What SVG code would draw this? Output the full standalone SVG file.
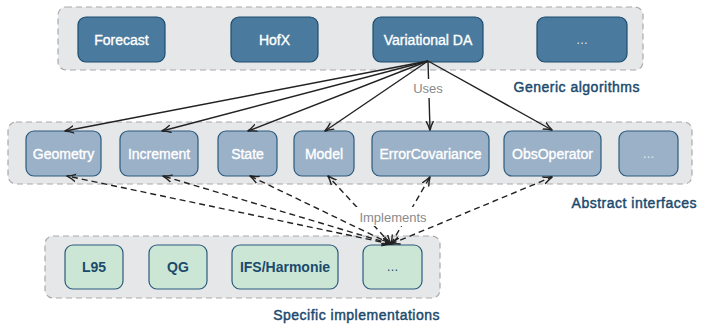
<svg xmlns="http://www.w3.org/2000/svg" width="701" height="324" viewBox="0 0 701 324">
<defs>
<marker id="arr" viewBox="0 0 10 10" refX="9" refY="5" markerWidth="10" markerHeight="10" markerUnits="userSpaceOnUse" orient="auto-start-reverse">
<path d="M0.5,1.5 Q5,4 9.5,5 Q5,6 0.5,8.5" fill="none" stroke="#222" stroke-width="1.4" stroke-linecap="round"/>
</marker>
<style>
.cont{fill:#e6e7e9;stroke:#a9aaac;stroke-width:1.2;stroke-dasharray:6 4}
.top{fill:#4a7a9d;stroke:#1d4d6e;stroke-width:1.2}
.mid{fill:#9bb1c8;stroke:#2b5b7c;stroke-width:1.2}
.bot{fill:#cce6d6;stroke:#2b5b7c;stroke-width:1.2}
.wt{font-family:"Liberation Sans",Arial,sans-serif;font-size:14px;fill:#ffffff;stroke:#ffffff;stroke-width:0.35;text-anchor:middle}
.dots{font-family:"Liberation Sans",Arial,sans-serif;font-size:12px;fill:#ffffff;fill-opacity:0.85;text-anchor:middle}
.bt{font-family:"Liberation Sans",Arial,sans-serif;font-size:14px;font-weight:bold;fill:#1b4a6b;text-anchor:middle}
.bdots{font-family:"Liberation Sans",Arial,sans-serif;font-size:12px;fill:#1b4a6b;text-anchor:middle}
.lab{font-family:"Liberation Sans",Arial,sans-serif;font-size:14px;letter-spacing:0.5px;fill:#1b4a6e;stroke:#1b4a6e;stroke-width:0.45;text-anchor:end}
.el{font-family:"Liberation Sans",Arial,sans-serif;font-size:13px;fill:#8a8a8a;text-anchor:middle}
.solid{fill:none;stroke:#222;stroke-width:1.4;marker-end:url(#arr)}
.dash{fill:none;stroke:#222;stroke-width:1.4;stroke-dasharray:6 4;marker-end:url(#arr);marker-start:url(#arr)}
</style>
</defs>
<rect width="701" height="324" fill="#ffffff"/>
<g id="generic-algorithms">
<rect class="cont" x="58" y="7" width="585" height="63" rx="8"/>
<text class="lab" x="640" y="92">Generic algorithms</text>
</g>
<g id="abstract-interfaces">
<rect class="cont" x="8" y="122" width="684" height="62" rx="8"/>
<text class="lab" x="697" y="208">Abstract interfaces</text>
</g>
<g id="specific-implementations">
<rect class="cont" x="45" y="236" width="395" height="62" rx="8"/>
<text class="lab" x="440" y="320">Specific implementations</text>
</g>
<g id="forecast"><rect class="top" x="78" y="17" width="87" height="45" rx="8"/><text class="wt" x="121.5" y="45">Forecast</text></g>
<g id="hofx"><rect class="top" x="231" y="17" width="87" height="45" rx="8"/><text class="wt" x="274.5" y="45">HofX</text></g>
<g id="variational-da"><rect class="top" x="373" y="17" width="110" height="45" rx="8"/><text class="wt" x="428" y="45">Variational DA</text></g>
<g id="generic-more"><rect class="top" x="537" y="17" width="90" height="45" rx="8"/><text class="dots" x="582" y="44">…</text></g>
<g id="geometry"><rect class="mid" x="26" y="131" width="75" height="45" rx="8"/><text class="wt" x="63.5" y="159">Geometry</text></g>
<g id="increment"><rect class="mid" x="120" y="131" width="78" height="45" rx="8"/><text class="wt" x="159" y="159">Increment</text></g>
<g id="state"><rect class="mid" x="218" y="131" width="59" height="45" rx="8"/><text class="wt" x="247.5" y="159">State</text></g>
<g id="model"><rect class="mid" x="294" y="131" width="60" height="45" rx="8"/><text class="wt" x="324" y="159">Model</text></g>
<g id="errorcovariance"><rect class="mid" x="372" y="131" width="117" height="45" rx="8"/><text class="wt" x="430.5" y="159">ErrorCovariance</text></g>
<g id="obsoperator"><rect class="mid" x="504" y="131" width="97" height="45" rx="8"/><text class="wt" x="552.5" y="159">ObsOperator</text></g>
<g id="interface-more"><rect class="mid" x="619" y="131" width="59" height="45" rx="8"/><text class="dots" x="648.5" y="158">…</text></g>
<g id="l95"><rect class="bot" x="65" y="245" width="58" height="44" rx="8"/><text class="bt" x="94" y="272">L95</text></g>
<g id="qg"><rect class="bot" x="149" y="245" width="58" height="44" rx="8"/><text class="bt" x="178" y="272">QG</text></g>
<g id="ifs-harmonie"><rect class="bot" x="232" y="245" width="106" height="44" rx="8"/><text class="bt" x="285" y="272">IFS/Harmonie</text></g>
<g id="impl-more"><rect class="bot" x="363" y="245" width="59" height="44" rx="8"/><text class="bdots" x="392.5" y="271">…</text></g>
<g id="connectors">
<path class="solid" d="M428,61 L65,131"/>
<path class="solid" d="M428,61 L162,131"/>
<path class="solid" d="M428,61 L248,131"/>
<path class="solid" d="M428,61 L325,131"/>
<path class="solid" d="M428,61 L430,130"/>
<path class="solid" d="M428,61 L552,130"/>
<rect x="412" y="79" width="32" height="19" fill="#ffffff"/>
<text class="el" x="428" y="93">Uses</text>
<path class="dash" d="M391,244 L67,176"/>
<path class="dash" d="M391,244 L163,176"/>
<path class="dash" d="M391,244 L250,176"/>
<path class="dash" d="M391,244 L328,176"/>
<path class="dash" d="M391,244 L430,177"/>
<path class="dash" d="M391,244 L552,177"/>
<rect x="356" y="207" width="74" height="19" fill="#ffffff"/>
<text class="el" x="393" y="222">Implements</text>
</g>
</svg>
